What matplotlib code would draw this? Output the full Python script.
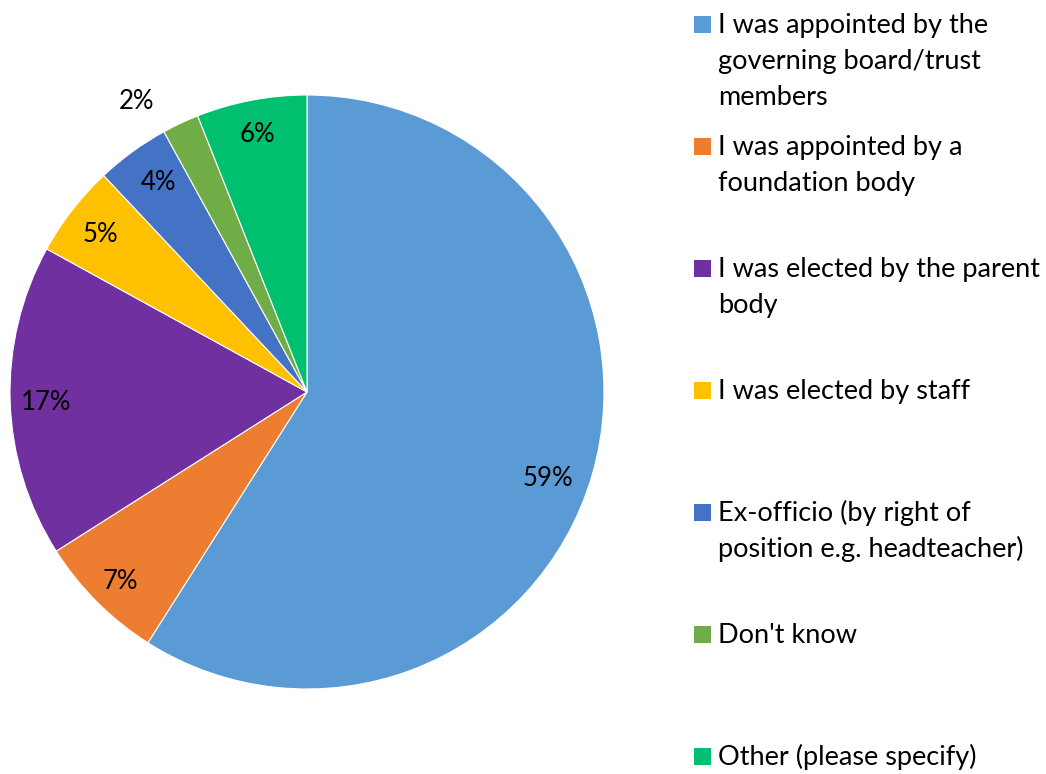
import numpy as np
import matplotlib.pyplot as plt
from matplotlib.patches import Rectangle

plt.rcParams['font.family'] = ['Lato', 'DejaVu Sans']

labels = ["I was appointed by the\ngoverning board/trust\nmembers",
          "I was appointed by a\nfoundation body",
          "I was elected by the parent\nbody",
          "I was elected by staff",
          "Ex-officio (by right of\nposition e.g. headteacher)",
          "Don't know",
          "Other (please specify)"]
values = [59, 7, 17, 5, 4, 2, 6]
colors = ["#5B9BD5", "#ED7D31", "#7030A0", "#FFC000", "#4472C4", "#70AD47", "#00BF6F"]
# label radius (fraction of pie radius) and angle nudge in degrees
label_r = [0.86, 0.89, 0.88, 0.88, 0.87, 1.14, 0.89]
label_shift = [-3, 0, 0, 0, -1, 5, 0]

W, H = 1046, 774
fig = plt.figure(figsize=(W / 100, H / 100), dpi=100)
ax = fig.add_axes([10 / W, 85 / H, 594 / W, 594 / H])
wedges, _ = ax.pie(values, colors=colors, startangle=90, counterclock=False,
                   wedgeprops=dict(edgecolor="white", linewidth=0.8))
ax.set_xlim(-1, 1)
ax.set_ylim(-1, 1)
ax.set_aspect('equal')

for w, v, r, s in zip(wedges, values, label_r, label_shift):
    ang = np.deg2rad((w.theta1 + w.theta2) / 2 + s)
    ax.text(r * np.cos(ang), r * np.sin(ang), "%d%%" % v, ha='center',
            va='center_baseline', fontsize=18.5, color='black', clip_on=False)

# legend drawn by hand, first-line baselines 122 px apart, lines 36 px apart
for i, (lab, c) in enumerate(zip(labels, colors)):
    base = 33 + 122 * i
    fig.patches.append(Rectangle((694 / W, 1 - base / H), 17 / W, 17 / H,
                                 facecolor=c, edgecolor='none', transform=fig.transFigure))
    for j, line in enumerate(lab.split("\n")):
        fig.text(718 / W, 1 - (base + 36 * j) / H, line, ha='left', va='baseline',
                 fontsize=19.5, color='black')

fig.savefig("out.png", dpi=100)
